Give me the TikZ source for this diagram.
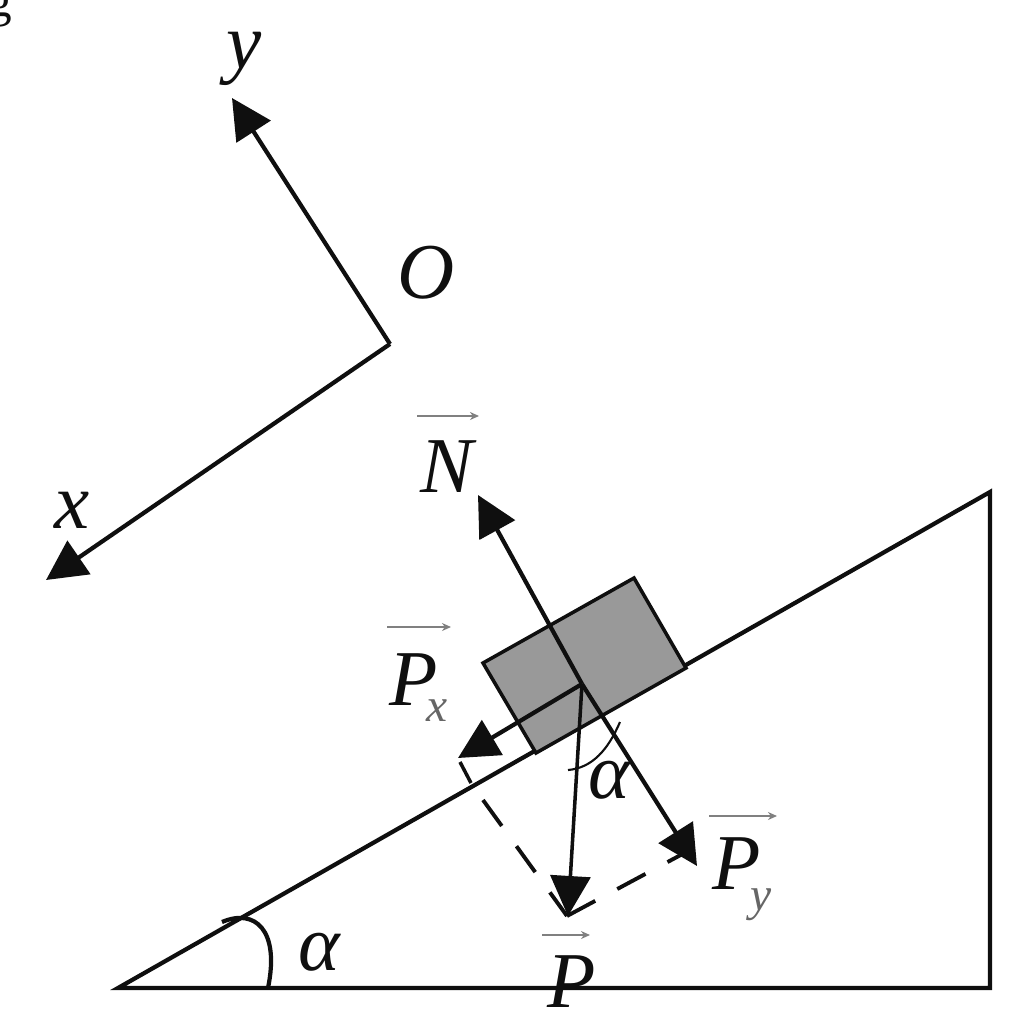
\documentclass[tikz,border=0pt]{standalone}
\usepackage{fontspec}
\setmainfont{Liberation Serif}
\usetikzlibrary{arrows.meta}
\definecolor{ink}{gray}{0.06}
\definecolor{blockfill}{gray}{0.6}
\tikzset{
  px/.style={x=0.01cm,y=-0.01cm},
  solidline/.style={draw=ink,line width=1.2pt,line join=miter},
  force/.style={solidline,-{Triangle[length=0.4cm,width=0.4cm]}},
  thinforce/.style={force,line width=1pt},
  dashline/.style={draw=ink,line width=1.1pt,dash pattern=on 0.32cm off 0.25cm},
  overarrow/.style={draw=black!50,line width=0.6pt,-{Stealth[length=0.09cm,width=0.08cm]}},
  lab/.style={inner sep=0pt,text=ink,font=\fontsize{22.5}{22.5}\selectfont\itshape},
  sublab/.style={inner sep=0pt,text=black!60,font=\fontsize{13.5}{13.5}\selectfont\itshape},
}
\begin{document}
\begin{tikzpicture}[px]
\path[use as bounding box] (0,0) rectangle (1024,1024);
\clip (0,0) rectangle (1024,1024);
% named points
\coordinate (A) at (118,988);
\coordinate (B) at (990,988);
\coordinate (C) at (990,492);
\coordinate (O1) at (390,344);
\coordinate (Ytip) at (232,98);
\coordinate (Xtip) at (46,580);
\coordinate (b1) at (483,663);
\coordinate (b2) at (634,578);
\coordinate (b3) at (686,668);
\coordinate (b4) at (536,753);
\coordinate (G) at (582,684);
\coordinate (Ntip) at (478,495);
\coordinate (Pytip) at (697,866);
\coordinate (Pxtip) at (458,758);
\coordinate (Ptip) at (568,916);
\coordinate (c1) at (460,762);
\coordinate (c2) at (471,783);
\coordinate (c0) at (483,800);
\coordinate (c3) at (567,916);
\coordinate (c4) at (690,850);
% corner fragment
\node[lab,font=\fontsize{14}{14}\selectfont] (frag) at (0,9) {g};
% coordinate axes
\draw[force] (O1) -- (Ytip);
\draw[force] (O1) -- (Xtip);
\node[lab] (ylab) at (244,59) {y};
\node[lab] (olab) at (426,273) {O};
\node[lab] (xlab) at (72,510) {x};
% incline
\draw[solidline] (A) -- (B) -- (C) -- cycle;
% block
\draw[solidline,line width=1pt,fill=blockfill] (b1) -- (b2) -- (b3) -- (b4) -- cycle;
% construction
\draw[solidline,line width=1pt] (c1) -- (c2);
\draw[dashline] (c0) -- (c3);
\draw[dashline] (c3) -- (c4);
% forces
\draw[force] (G) -- (Ntip);
\draw[force] (G) -- (Pytip);
\draw[force] (G) -- (Pxtip);
\draw[thinforce] (G) -- (Ptip);
% angle arcs
\coordinate (a1) at (222,922);
\coordinate (a2) at (268,988);
\draw[solidline] (a1) .. controls (255,908) and (280,930) .. (a2);
\coordinate (a3) at (620,722);
\coordinate (a4) at (568,770);
\draw[solidline,line width=0.6pt] (a3) .. controls (608,750) and (592,768) .. (a4);
\node[lab] (alpha1) at (319,952) {α};
\node[lab] (alpha2) at (609,780) {α};
% force labels
\node[lab] (nlab) at (447,467) {N};
\coordinate (n1) at (417,416); \coordinate (n2) at (479,416);
\draw[overarrow] (n1) -- (n2);
\node[lab] (pxlab) at (414,680) {P};
\node[sublab] (pxsub) at (437,711) {x};
\coordinate (px1) at (387,627); \coordinate (px2) at (451,627);
\draw[overarrow] (px1) -- (px2);
\node[lab] (pylab) at (737,864) {P};
\node[sublab] (pysub) at (761,905) {y};
\coordinate (py1) at (709,816); \coordinate (py2) at (777,816);
\draw[overarrow] (py1) -- (py2);
\node[lab] (plab) at (572,982) {P};
\coordinate (p1) at (542,935); \coordinate (p2) at (590,935);
\draw[overarrow] (p1) -- (p2);
\end{tikzpicture}
\end{document}
